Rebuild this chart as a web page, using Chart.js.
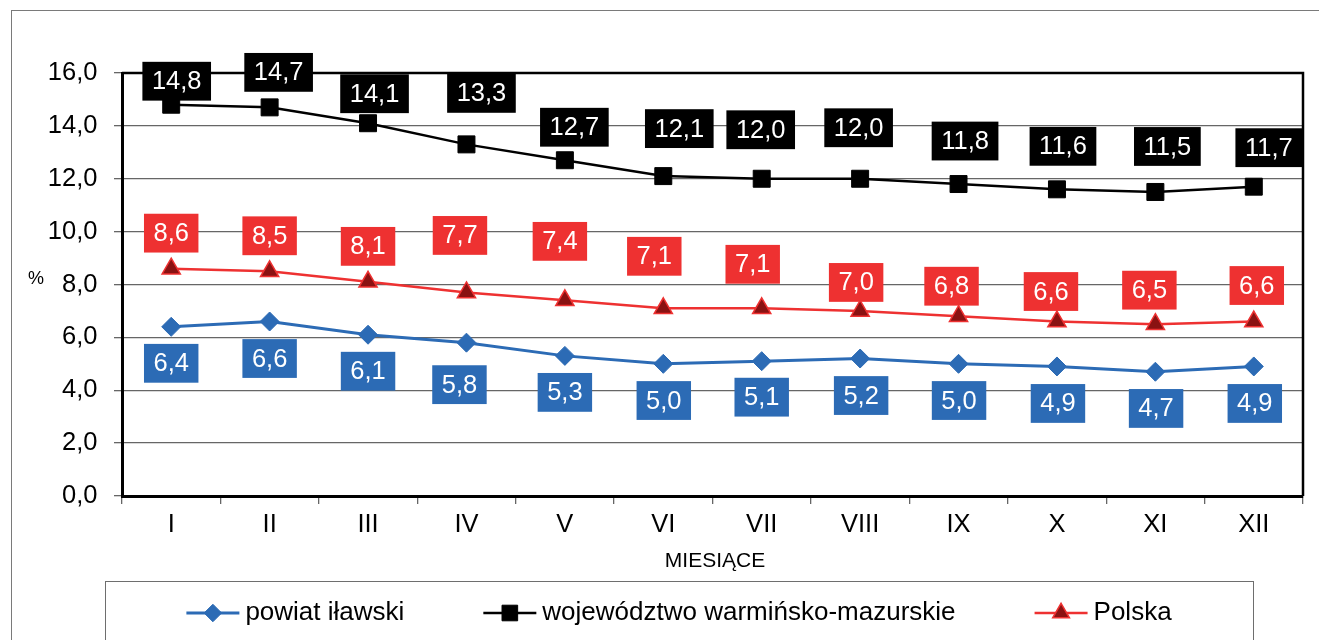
<!DOCTYPE html>
<html>
<head>
<meta charset="utf-8">
<script src="https://cdn.jsdelivr.net/npm/chart.js@4/dist/chart.umd.min.js"></script>
<style>
html,body{margin:0;padding:0;background:#fff;}
#wrap{position:relative;width:1319px;height:640px;overflow:hidden;}
</style>
</head>
<body>
<div id="wrap"><canvas id="c" width="1319" height="640"></canvas></div>
<script>
// ---- data ----
const months = ['I','II','III','IV','V','VI','VII','VIII','IX','X','XI','XII'];
const powiatIlawski = [6.4,6.6,6.1,5.8,5.3,5.0,5.1,5.2,5.0,4.9,4.7,4.9];
const wojewodztwo = [14.8,14.7,14.1,13.3,12.7,12.1,12.0,12.0,11.8,11.6,11.5,11.7];
const polska = [8.6,8.5,8.1,7.7,7.4,7.1,7.1,7.0,6.8,6.6,6.5,6.6];
const yTickValues = [0,2,4,6,8,10,12,14,16];
const yTickLabels = ['0,0','2,0','4,0','6,0','8,0','10,0','12,0','14,0','16,0'];
const seriesNames = ['powiat iławski','województwo warmińsko-mazurskie','Polska'];
const xTitle = 'MIESIĄCE';
const yTitle = '%';

const FONT = "'Liberation Sans', Arial, Helvetica, sans-serif";
const BLUE = '#2C6BB5', RED = '#EE3131', DARKRED = '#8A1212', BLACK = '#000000';

const fmt = v => v.toFixed(1).replace('.', ',');

// label nudges (pixels, relative to each point) – styling only
const labelNudges = [
  [[0,36.5],[0,37],[0,36.5],[-7,42],[0,36.5],[0.5,36.7],[0,36],[1,37],[0.5,36.7],[1,37],[0.7,36.7],[1,37]],
  [[5.5,-23.5],[9,-35],[6.5,-29.5],[15,-51],[9.5,-33],[16,-47.5],[-1,-49],[-1.5,-51],[6.5,-43],[6,-43],[12,-45.5],[15,-39]],
  [[0,-35.5],[0,-35.5],[0,-35.5],[-6.5,-57],[-5,-59],[-9,-52],[-9,-44],[-4,-28.5],[-7,-30],[-6,-30],[-6,-34],[3,-36]]
];
const labelBg = [BLUE, BLACK, RED];

function drawMarker(ctx, style, x, y, r, fill, stroke, bw) {
  ctx.save();
  ctx.beginPath();
  if (style === 'rectRot') {
    ctx.moveTo(x, y - r); ctx.lineTo(x + r, y); ctx.lineTo(x, y + r); ctx.lineTo(x - r, y); ctx.closePath();
  } else if (style === 'rect') {
    const s = r * Math.SQRT1_2;
    ctx.rect(x - s, y - s, 2 * s, 2 * s);
  } else if (style === 'triangle') {
    ctx.moveTo(x, y - r);
    ctx.lineTo(x + r * Math.cos(Math.PI / 6), y + r / 2);
    ctx.lineTo(x - r * Math.cos(Math.PI / 6), y + r / 2);
    ctx.closePath();
  }
  ctx.fillStyle = fill; ctx.fill();
  if (bw > 0) { ctx.lineWidth = bw; ctx.strokeStyle = stroke; ctx.stroke(); }
  ctx.restore();
}

const decorPlugin = {
  id: 'decor',
  beforeDraw(chart) {
    const ctx = chart.ctx;
    ctx.save();
    ctx.fillStyle = '#fff';
    ctx.fillRect(0, 0, chart.width, chart.height);
    ctx.strokeStyle = '#7a7a7a';
    ctx.lineWidth = 1;
    ctx.strokeRect(11.5, 10.5, 1500, 800);
    ctx.restore();
  },
  beforeDatasetsDraw(chart) {
    const ctx = chart.ctx;
    const a = chart.chartArea;
    ctx.save();
    ctx.strokeStyle = '#000';
    ctx.lineWidth = 2.5;
    ctx.beginPath();
    ctx.moveTo(a.left, a.top); ctx.lineTo(a.right, a.top); ctx.lineTo(a.right, a.bottom);
    ctx.stroke();
    ctx.restore();
  },
  afterDraw(chart) {
    const ctx = chart.ctx;
    ctx.save();
    // axis titles
    ctx.fillStyle = '#000';
    ctx.textAlign = 'center';
    ctx.textBaseline = 'middle';
    ctx.font = '21px ' + FONT;
    ctx.fillText(xTitle, 715, 561);
    ctx.font = '18px ' + FONT;
    ctx.fillText(yTitle, 36, 279);

    // legend
    ctx.strokeStyle = '#6e6e6e';
    ctx.lineWidth = 1;
    ctx.strokeRect(105.5, 581.5, 1148, 200);
    ctx.font = '26px ' + FONT;
    const gap = 79, lineW = 53, textGap = 6;
    const widths = seriesNames.map(n => lineW + textGap + ctx.measureText(n).width);
    const total = widths.reduce((s, w) => s + w, 0) + gap * (widths.length - 1);
    let x = 679 - total / 2;
    const ly = 613;
    chart.data.datasets.forEach((ds, i) => {
      ctx.strokeStyle = ds.borderColor;
      ctx.lineWidth = ds.borderWidth;
      ctx.beginPath(); ctx.moveTo(x, ly); ctx.lineTo(x + lineW, ly); ctx.stroke();
      drawMarker(ctx, ds.pointStyle, x + lineW / 2, ly, ds.pointRadius * 0.92, ds.pointBackgroundColor, ds.pointBorderColor, ds.pointBorderWidth);
      ctx.fillStyle = '#000';
      ctx.textAlign = 'left';
      ctx.textBaseline = 'middle';
      ctx.fillText(ds.label, x + lineW + textGap, ly);
      x += widths[i] + gap;
    });
    ctx.restore();
  },
  afterDatasetsDraw(chart) {
    const ctx = chart.ctx;
    ctx.save();
    ctx.font = '25.5px ' + FONT;
    ctx.textAlign = 'center';
    ctx.textBaseline = 'middle';
    chart.data.datasets.forEach((ds, i) => {
      const meta = chart.getDatasetMeta(i);
      meta.data.forEach((el, j) => {
        const txt = fmt(ds.data[j]);
        const [dx, dy] = labelNudges[i][j];
        const cx = el.x + dx, cy = el.y + dy;
        const w = ctx.measureText(txt).width + 19;
        const h = 38.8;
        ctx.fillStyle = labelBg[i];
        ctx.fillRect(cx - w / 2, cy - h / 2, w, h);
        ctx.fillStyle = '#fff';
        ctx.fillText(txt, cx, cy + 1);
      });
    });
    ctx.restore();
  }
};

new Chart(document.getElementById('c'), {
  type: 'line',
  data: {
    labels: months,
    datasets: [
      { label: seriesNames[0], data: powiatIlawski, borderColor: BLUE, backgroundColor: BLUE,
        borderWidth: 3, pointStyle: 'rectRot', pointRadius: 9.5, pointHoverRadius: 9.5,
        pointBackgroundColor: BLUE, pointBorderColor: BLUE, pointBorderWidth: 1, tension: 0 },
      { label: seriesNames[1], data: wojewodztwo, borderColor: BLACK, backgroundColor: BLACK,
        borderWidth: 2.5, pointStyle: 'rect', pointRadius: 12, pointHoverRadius: 12,
        pointBackgroundColor: BLACK, pointBorderColor: BLACK, pointBorderWidth: 1, tension: 0 },
      { label: seriesNames[2], data: polska, borderColor: RED, backgroundColor: RED,
        borderWidth: 2.5, pointStyle: 'triangle', pointRadius: 10.5, pointHoverRadius: 10.5,
        pointBackgroundColor: DARKRED, pointBorderColor: RED, pointBorderWidth: 1.5, tension: 0 }
    ]
  },
  options: {
    responsive: false,
    animation: false,
    devicePixelRatio: 1,
    events: [],
    layout: { padding: { top: 73, right: 16, left: 0, bottom: 0 } },
    plugins: { legend: { display: false }, tooltip: { enabled: false }, title: { display: false } },
    scales: {
      x: {
        type: 'category',
        offset: true,
        grid: { display: true, drawOnChartArea: false, drawTicks: true, tickLength: 8, color: '#666', lineWidth: 1.3, offset: true },
        border: { display: true, color: '#000', width: 3 },
        ticks: { color: '#000', font: { family: FONT, size: 25.5 }, padding: 6, maxRotation: 0, autoSkip: false },
        afterFit: s => { s.height = 144; }
      },
      y: {
        min: 0, max: 16,
        afterBuildTicks: s => { s.ticks = yTickValues.map(v => ({ value: v })); },
        grid: { color: '#666', lineWidth: 1.3, drawTicks: true, tickLength: 8 },
        border: { display: true, color: '#000', width: 3 },
        ticks: { color: '#000', font: { family: FONT, size: 25.5 }, padding: 16.5,
          callback: (v, i) => yTickLabels[yTickValues.indexOf(v)] },
        afterFit: s => { s.width = 122; }
      }
    }
  },
  plugins: [decorPlugin]
});
</script>
</body>
</html>
